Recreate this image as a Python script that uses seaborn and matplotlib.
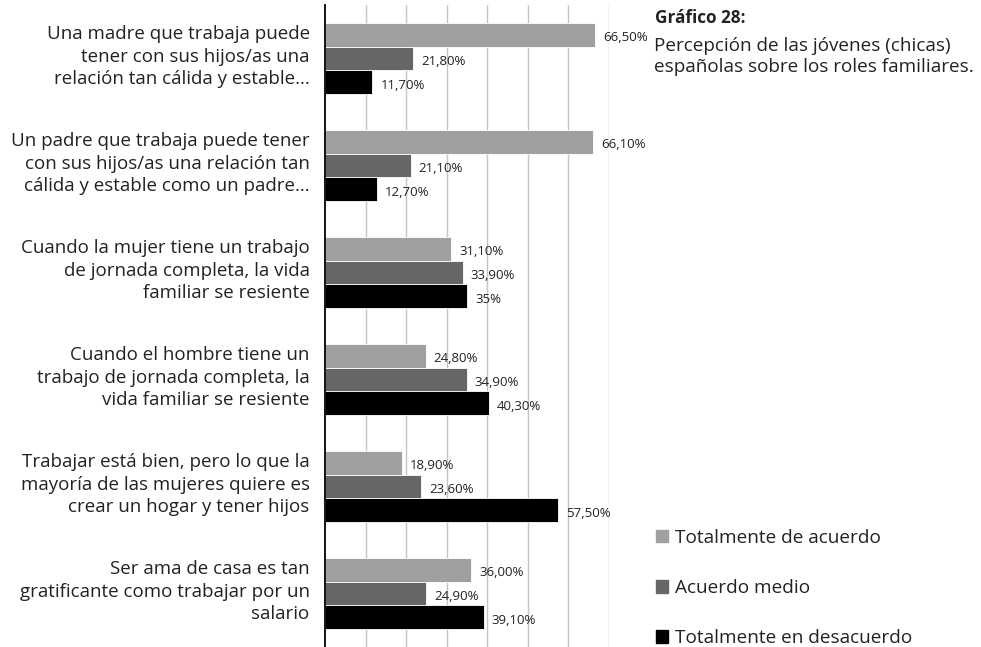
import matplotlib
matplotlib.use("Agg")
import matplotlib.pyplot as plt
import matplotlib.transforms as mtransforms
import seaborn as sns
import pandas as pd

categorias = [
    "Una madre que trabaja puede\ntener con sus hijos/as una\nrelación tan cálida y estable...",
    "Un padre que trabaja puede tener\ncon sus hijos/as una relación tan\ncálida y estable como un padre...",
    "Cuando la mujer tiene un trabajo\nde jornada completa, la vida\nfamiliar se resiente",
    "Cuando el hombre tiene un\ntrabajo de jornada completa, la\nvida familiar se resiente",
    "Trabajar está bien, pero lo que la\nmayoría de las mujeres quiere es\ncrear un hogar y tener hijos",
    "Ser ama de casa es tan\ngratificante como trabajar por un\nsalario",
]
series = ["Totalmente de acuerdo", "Acuerdo medio", "Totalmente en desacuerdo"]
totalmente_acuerdo = [66.5, 66.1, 31.1, 24.8, 18.9, 36.0]
acuerdo_medio = [21.8, 21.1, 33.9, 34.9, 23.6, 24.9]
totalmente_desacuerdo = [11.7, 12.7, 35.0, 40.3, 57.5, 39.1]
etiquetas = [
    ["66,50%", "66,10%", "31,10%", "24,80%", "18,90%", "36,00%"],
    ["21,80%", "21,10%", "33,90%", "34,90%", "23,60%", "24,90%"],
    ["11,70%", "12,70%", "35%", "40,30%", "57,50%", "39,10%"],
]
colores = ["#a0a0a0", "#666666", "#000000"]

filas = []
for nombre, vals in zip(series, [totalmente_acuerdo, acuerdo_medio, totalmente_desacuerdo]):
    for cat, v in zip(categorias, vals):
        filas.append({"categoria": cat, "serie": nombre, "valor": v})
df = pd.DataFrame(filas)

sns.set_style("white")
plt.rcParams["font.family"] = ["Open Sans", "DejaVu Sans"]

fig = plt.figure(figsize=(9.81, 6.47), dpi=100)
ax = fig.add_axes([325 / 981, 0.0, 284 / 981, 642 / 647])

sns.barplot(data=df, y="categoria", x="valor", hue="serie", orient="h",
            palette=colores, width=0.67, edgecolor="white", linewidth=0.6,
            ax=ax, legend=False)

ax.set_xlim(0, 70)
ax.set_ylim(5.5, -0.5)
ax.set_xticks(range(10, 71, 10))
ax.xaxis.grid(True, color="#c4c4c4", linewidth=1)
ax.set_axisbelow(True)
ax.set_xticklabels([])
ax.tick_params(axis="both", length=0)
ax.set_xlabel("")
ax.set_ylabel("")
for s in ["top", "right", "bottom"]:
    ax.spines[s].set_visible(False)
ax.spines["left"].set_color("black")
ax.spines["left"].set_linewidth(1.3)
ax.set_yticklabels(categorias, fontsize=13.5, color="#222222", linespacing=1.33)
ax.tick_params(axis="y", pad=11)
# subir un poco las etiquetas de categoría
desplaza = mtransforms.ScaledTranslation(0, 6 / 100, fig.dpi_scale_trans)
for t in ax.get_yticklabels():
    t.set_transform(t.get_transform() + desplaza)

for container, labs in zip(ax.containers, etiquetas):
    for bar, lab in zip(container, labs):
        y = bar.get_y() + bar.get_height() / 2
        ax.text(bar.get_width() + 2.0, y + 0.03, lab, fontsize=9.5, va="center",
                ha="left", color="#222222")

fig.text(655 / 981, 1 - 18 / 647, "Gráfico 28:", fontsize=12.3, fontweight="bold",
         va="center", color="#222222")
fig.text(654 / 981, 1 - 56.5 / 647,
         "Percepción de las jóvenes (chicas)\nespañolas sobre los roles familiares.",
         fontsize=13.6, va="center", color="#222222", linespacing=1.2)

handles = [plt.Rectangle((0, 0), 1, 1, color=c) for c in colores]
fig.legend(handles, series, loc="center left", bbox_to_anchor=(639 / 981, 1 - 588 / 647),
           frameon=False, fontsize=13.7, handlelength=0.63, handleheight=0.63,
           handletextpad=0.35, labelspacing=1.7, labelcolor="#222222")

fig.savefig("out.png", dpi=100)
